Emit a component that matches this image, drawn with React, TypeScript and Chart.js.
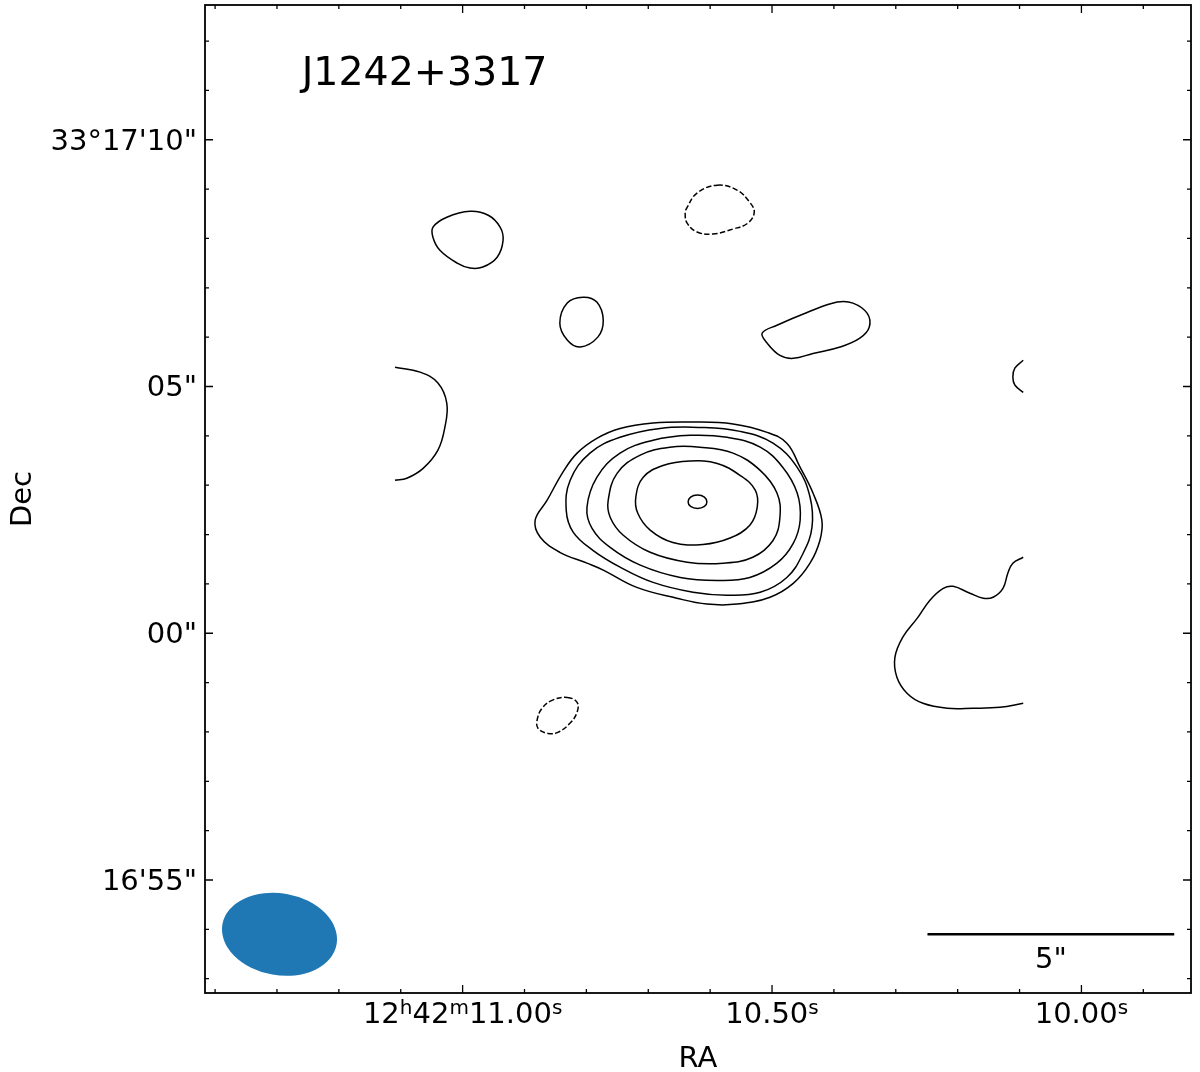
import { useEffect, useRef } from "react";
import { Chart, registerables } from "chart.js";

Chart.register(...registerables);

// ---------------- data ----------------
// Offsets in arcsec from RA 12h42m10.50s, Dec +33°17'00" (x positive = east)
const SOURCE_NAME = "J1242+3317";
const RA_REF_SEC = 10.5;
const DEC_REF_DEG = 33.2833;

const X_MIN = -8.49;
const X_MAX = 11.49;
const Y_MIN = -7.29;
const Y_MAX = 12.73;

const RA_TICKS_SEC = [11.4, 11.3, 11.2, 11.1, 11.0, 10.9, 10.8, 10.7, 10.6, 10.5, 10.4, 10.3, 10.2, 10.1, 10.0, 9.9];
const RA_MAJOR_SEC = [11.0, 10.5, 10.0];
const RA_MAJOR_LABELS = [
  [{ t: "12" }, { t: "h", sup: true }, { t: "42" }, { t: "m", sup: true }, { t: "11.00" }, { t: "s", sup: true }],
  [{ t: "10.50" }, { t: "s", sup: true }],
  [{ t: "10.00" }, { t: "s", sup: true }],
];

const DEC_TICKS = [-7, -6, -5, -4, -3, -2, -1, 0, 1, 2, 3, 4, 5, 6, 7, 8, 9, 10, 11, 12];
const DEC_MAJOR = [10, 5, 0, -5];
const DEC_LABELS = ["33°17'10\"", "05\"", "00\"", "16'55\""];

// positive contours (closed)
const CORE_1 = [[1.60,4.28],[0.79,4.24],[0.10,4.07],[-0.30,3.85],[-0.57,3.36],[-0.83,2.84],[-1.01,2.29],[-0.97,1.88],[-0.77,1.42],[-0.43,1.01],[0.04,0.73],[0.71,0.59],[1.32,0.59],[1.93,0.71],[2.74,0.93],[3.42,1.28],[3.75,1.42],[4.30,1.64],[4.70,1.95],[4.80,2.29],[4.56,2.69],[4.24,3.26],[3.95,3.65],[3.55,3.95],[3.08,4.15],[2.41,4.26]];
const CORE_2 = [[1.46,4.17],[0.65,4.09],[-0.02,3.85],[-0.51,3.36],[-0.77,2.76],[-0.81,2.15],[-0.63,1.62],[-0.30,1.13],[0.24,0.83],[0.91,0.77],[1.60,0.83],[2.41,1.03],[3.08,1.34],[3.63,1.68],[4.03,2.05],[4.17,2.49],[4.09,3.10],[3.69,3.65],[3.08,3.97],[2.27,4.15]];
const CORE_3 = [[1.66,4.01],[0.91,3.97],[0.24,3.77],[-0.22,3.36],[-0.51,2.84],[-0.57,2.29],[-0.43,1.82],[-0.10,1.42],[0.45,1.13],[1.11,1.07],[1.86,1.13],[2.67,1.38],[3.28,1.74],[3.65,2.13],[3.75,2.55],[3.55,3.16],[3.08,3.65],[2.41,3.91]];
const CORE_4 = [[1.46,3.77],[0.79,3.65],[0.24,3.30],[-0.10,2.84],[-0.16,2.35],[-0.02,1.88],[0.39,1.54],[0.99,1.42],[1.72,1.44],[2.47,1.64],[3.02,1.99],[3.28,2.35],[3.32,2.69],[3.14,3.24],[2.67,3.61],[2.07,3.77]];
const CORE_5 = [[1.66,3.49],[1.11,3.44],[0.65,3.20],[0.34,2.90],[0.30,2.55],[0.45,2.19],[0.85,1.93],[1.40,1.80],[2.01,1.84],[2.47,2.09],[2.72,2.43],[2.76,2.76],[2.61,3.16],[2.21,3.40]];
const CORE_6 = [[1.51,2.80],[1.37,2.76],[1.32,2.66],[1.37,2.57],[1.51,2.53],[1.65,2.57],[1.70,2.66],[1.65,2.76]];
const BLOB_NW = [[6.12,8.55],[5.75,8.47],[5.51,8.23],[5.45,7.96],[5.57,7.62],[5.86,7.42],[6.12,7.40],[6.38,7.50],[6.73,7.76],[6.87,8.02],[6.87,8.23],[6.59,8.43]];
const BLOB_N = [[3.83,6.81],[3.55,6.71],[3.42,6.34],[3.53,6.00],[3.89,5.80],[4.15,5.94],[4.30,6.28],[4.15,6.69]];
const BLOB_NE = [[-1.32,6.71],[-1.64,6.69],[-1.93,6.48],[-1.97,6.20],[-1.78,5.98],[-1.38,5.80],[-0.83,5.67],[-0.43,5.57],[-0.16,5.63],[0.10,5.88],[0.20,6.08],[-0.10,6.24],[-0.71,6.50]];

// positive contours cut by the map edge (open)
const ARC_W = [[7.64,5.39],[7.13,5.29],[6.77,5.07],[6.59,4.66],[6.63,4.17],[6.77,3.71],[7.07,3.34],[7.40,3.14],[7.64,3.10]];
const ARC_E = [[-5.09,5.53],[-4.92,5.37],[-4.88,5.19],[-4.92,5.03],[-5.09,4.88]];
const ARC_SE = [[-5.09,1.54],[-4.88,1.42],[-4.78,1.22],[-4.68,0.91],[-4.48,0.73],[-4.28,0.71],[-4.01,0.81],[-3.67,0.95],[-3.47,0.91],[-3.20,0.67],[-2.94,0.30],[-2.65,-0.08],[-2.49,-0.49],[-2.53,-0.89],[-2.74,-1.22],[-3.06,-1.42],[-3.55,-1.52],[-4.07,-1.52],[-4.62,-1.50],[-5.09,-1.42]];

// negative contours (closed)
const NEG_N = [[1.11,9.08],[0.71,8.98],[0.45,8.73],[0.36,8.53],[0.49,8.31],[0.79,8.19],[1.20,8.09],[1.52,8.13],[1.72,8.31],[1.76,8.51],[1.72,8.63],[1.52,8.92]];
const NEG_S = [[4.15,-1.30],[3.95,-1.40],[3.95,-1.60],[4.09,-1.82],[4.34,-2.01],[4.54,-2.03],[4.74,-1.93],[4.76,-1.76],[4.66,-1.52],[4.46,-1.36]];

const POSITIVE_CLOSED = [CORE_1, CORE_2, CORE_3, CORE_4, CORE_5, CORE_6, BLOB_NW, BLOB_N, BLOB_NE];
const POSITIVE_OPEN = [ARC_W, ARC_E, ARC_SE];
const NEGATIVE_CLOSED = [NEG_N, NEG_S];

// restoring beam (arcsec, deg) and scale bar (arcsec)
const BEAM_CENTER = [9.98, -6.10];
const BEAM_MAJOR = 2.35;
const BEAM_MINOR = 1.66;
const BEAM_PA = 80;
const SCALEBAR_CENTER = [-5.65, -6.10];
const SCALEBAR_LEN = 5;
const SCALEBAR_LABEL = "5\"";

// ---------------- styles ----------------
const FONT = '"DejaVu Sans", sans-serif';
const TICK_FONT = `29px ${FONT}`;
const SUP_FONT = `20px ${FONT}`;
const TITLE_FONT = `39.5px ${FONT}`;

function toPts(arr: number[][]) {
  return arr.map(([x, y]) => ({ x, y }));
}

// make closed contours smooth closed splines (the library's own loop mode)
const loopPlugin = {
  id: "closedLoops",
  afterDatasetsUpdate(chart: any) {
    chart.data.datasets.forEach((ds: any, i: number) => {
      if (!ds.closedLoop) return;
      const line = chart.getDatasetMeta(i).dataset;
      if (!line) return;
      line._loop = true;
      line._fullLoop = true;
      line._pointsUpdated = false;
      delete line._segments;
      delete line._path;
    });
  },
};

const overlayPlugin = {
  id: "overlay",
  afterDatasetsDraw(chart: any) {
    const { ctx, chartArea: ca, scales } = chart;
    const xs = scales.x;
    const ys = scales.y;
    const k = 15 * Math.cos((DEC_REF_DEG * Math.PI) / 180);
    const raPx = (s: number) => xs.getPixelForValue((s - RA_REF_SEC) * k);
    const pxPerArcsec = Math.abs(ys.getPixelForValue(1) - ys.getPixelForValue(0));
    ctx.save();

    // beam
    ctx.fillStyle = "#1f77b4";
    ctx.beginPath();
    ctx.ellipse(
      xs.getPixelForValue(BEAM_CENTER[0]),
      ys.getPixelForValue(BEAM_CENTER[1]),
      (BEAM_MAJOR / 2) * pxPerArcsec,
      (BEAM_MINOR / 2) * pxPerArcsec,
      ((90 - BEAM_PA) * Math.PI) / 180,
      0,
      Math.PI * 2
    );
    ctx.fill();

    // scale bar
    const bx0 = xs.getPixelForValue(SCALEBAR_CENTER[0] + SCALEBAR_LEN / 2);
    const bx1 = xs.getPixelForValue(SCALEBAR_CENTER[0] - SCALEBAR_LEN / 2);
    const by = ys.getPixelForValue(SCALEBAR_CENTER[1]);
    ctx.strokeStyle = "#000";
    ctx.lineWidth = 2.5;
    ctx.beginPath();
    ctx.moveTo(bx0, by);
    ctx.lineTo(bx1, by);
    ctx.stroke();
    ctx.fillStyle = "#000";
    ctx.font = TICK_FONT;
    ctx.textAlign = "center";
    ctx.textBaseline = "alphabetic";
    ctx.fillText(SCALEBAR_LABEL, (bx0 + bx1) / 2, by + 34);

    // title
    ctx.font = TITLE_FONT;
    ctx.textAlign = "left";
    ctx.fillText(SOURCE_NAME, ca.left + 0.098 * ca.width, ca.top + 0.081 * ca.height);

    // frame
    ctx.lineWidth = 1.8;
    ctx.strokeRect(ca.left, ca.top, ca.right - ca.left, ca.bottom - ca.top);

    // ticks
    ctx.lineWidth = 1.3;
    const MAJ = 8;
    const MIN = 4;
    RA_TICKS_SEC.forEach((s) => {
      const px = raPx(s);
      if (px < ca.left || px > ca.right) return;
      const len = RA_MAJOR_SEC.some((m) => Math.abs(m - s) < 1e-6) ? MAJ : MIN;
      ctx.beginPath();
      ctx.moveTo(px, ca.bottom);
      ctx.lineTo(px, ca.bottom - len);
      ctx.moveTo(px, ca.top);
      ctx.lineTo(px, ca.top + len);
      ctx.stroke();
    });
    DEC_TICKS.forEach((d) => {
      const py = ys.getPixelForValue(d);
      if (py < ca.top || py > ca.bottom) return;
      const len = DEC_MAJOR.includes(d) ? MAJ : MIN;
      ctx.beginPath();
      ctx.moveTo(ca.left, py);
      ctx.lineTo(ca.left + len, py);
      ctx.moveTo(ca.right, py);
      ctx.lineTo(ca.right - len, py);
      ctx.stroke();
    });

    // y tick labels
    ctx.font = TICK_FONT;
    ctx.textAlign = "right";
    DEC_MAJOR.forEach((d, i) => {
      ctx.fillText(DEC_LABELS[i], ca.left - 8, ys.getPixelForValue(d) + 10);
    });

    // x tick labels (with superscripts)
    ctx.textAlign = "left";
    RA_MAJOR_SEC.forEach((s, i) => {
      const parts = RA_MAJOR_LABELS[i] as { t: string; sup?: boolean }[];
      const widths = parts.map((p) => {
        ctx.font = p.sup ? SUP_FONT : TICK_FONT;
        return ctx.measureText(p.t).width;
      });
      const total = widths.reduce((a, b) => a + b, 0);
      let xx = raPx(s) - total / 2;
      const base = ca.bottom + 30;
      parts.forEach((p, j) => {
        ctx.font = p.sup ? SUP_FONT : TICK_FONT;
        ctx.fillText(p.t, xx, p.sup ? base - 9 : base);
        xx += widths[j];
      });
    });

    // axis titles
    ctx.font = TICK_FONT;
    ctx.textAlign = "center";
    ctx.fillText("RA", (ca.left + ca.right) / 2, ca.bottom + 74);
    ctx.save();
    ctx.translate(31, (ca.top + ca.bottom) / 2);
    ctx.rotate(-Math.PI / 2);
    ctx.fillText("Dec", 0, 0);
    ctx.restore();

    ctx.restore();
  },
};

export default function App() {
  const ref = useRef<HTMLCanvasElement>(null);
  useEffect(() => {
    const mk = (arr: number[][], closed: boolean, dashed: boolean) => ({
      data: toPts(arr),
      closedLoop: closed,
      showLine: true,
      borderColor: "#000",
      borderWidth: 1.5,
      borderDash: dashed ? [5.5, 2.4] : [],
      pointRadius: 0,
      pointHoverRadius: 0,
      tension: 0.4,
      fill: false,
    });
    const datasets = [
      ...POSITIVE_CLOSED.map((c) => mk(c, true, false)),
      ...POSITIVE_OPEN.map((c) => mk(c, false, false)),
      ...NEGATIVE_CLOSED.map((c) => mk(c, true, true)),
    ];
    const chart = new Chart(ref.current as HTMLCanvasElement, {
      type: "scatter",
      data: { datasets },
      options: {
        animation: false,
        responsive: false,
        devicePixelRatio: 1,
        layout: { padding: { left: 205, right: 9, top: 5, bottom: 79 } },
        plugins: { legend: { display: false }, tooltip: { enabled: false } },
        events: [],
        scales: {
          x: { type: "linear", min: X_MIN, max: X_MAX, reverse: true, display: false },
          y: { type: "linear", min: Y_MIN, max: Y_MAX, display: false },
        },
      } as any,
      plugins: [loopPlugin, overlayPlugin],
    });
    return () => chart.destroy();
  }, []);
  return (
    <div style={{ position: "absolute", left: 0, top: 0, width: 1200, height: 1072, background: "#fff" }}>
      <canvas ref={ref} width={1200} height={1072} style={{ display: "block", width: 1200, height: 1072 }} />
    </div>
  );
}
